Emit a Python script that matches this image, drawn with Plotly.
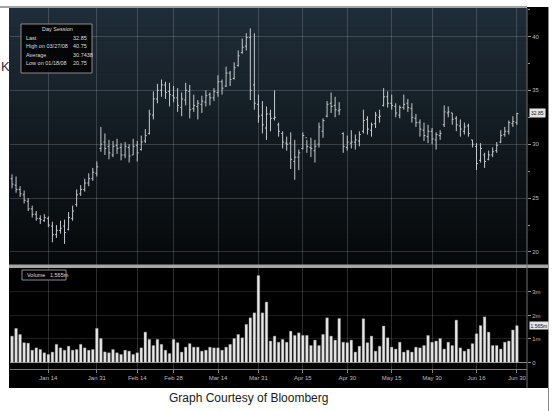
import pandas as pd
import plotly.graph_objects as go

W, H = 552, 411

# ---- data ----
holidays = ["2008-01-01", "2008-01-21", "2008-02-18", "2008-03-21", "2008-05-26"]
dates = [d.strftime("%Y-%m-%d") for d in pd.bdate_range("2007-12-31", "2008-06-30")
         if d.strftime("%Y-%m-%d") not in holidays]

high = [27.2, 27.0, 26.1, 25.7, 25.0, 24.3, 23.8, 23.4, 23.5, 23.3,
        22.8, 22.5, 22.9, 23.0, 23.7, 24.3, 25.8, 26.2, 26.8, 27.3,
        27.8, 28.4, 31.6, 31.0, 30.4, 30.3, 30.5, 30.1, 30.2, 30.0,
        30.5, 30.3, 30.8, 31.4, 33.2, 34.9, 35.6, 36.0, 35.8, 35.7,
        35.4, 35.2, 34.8, 35.7, 35.5, 34.6, 34.1, 34.5, 35.0, 34.8,
        35.2, 36.4, 36.0, 37.2, 36.8, 37.6, 38.7, 39.8, 40.3, 40.75,
        40.3, 34.6, 34.0, 33.5, 33.2, 35.0, 32.0, 31.2, 30.7, 31.1,
        30.4, 29.5, 31.1, 30.4, 30.6, 30.4, 32.0, 32.4, 34.0, 34.8,
        34.4, 33.9, 31.1, 30.8, 31.3, 30.9, 31.2, 33.2, 32.6, 32.0,
        33.0, 33.2, 35.2, 34.9, 34.6, 33.8, 33.6, 34.6, 34.2, 33.8,
        32.8, 32.3, 32.0, 31.8, 31.5, 31.1, 31.3, 33.6, 33.5, 32.9,
        32.6, 32.3, 32.0, 31.9, 30.4, 30.1, 30.1, 29.2, 29.4, 29.7,
        30.2, 31.3, 31.6, 32.2, 32.6, 32.9]
low = [25.9, 25.5, 25.1, 24.5, 23.8, 23.2, 22.9, 22.6, 22.8, 22.3,
       20.9, 21.3, 21.7, 20.75, 22.0, 22.9, 24.2, 25.2, 25.6, 26.1,
       26.6, 27.0, 29.3, 29.0, 28.6, 28.8, 29.1, 28.5, 28.7, 28.3,
       29.0, 28.4, 29.4, 30.1, 30.9, 32.3, 33.8, 34.4, 34.2, 33.5,
       33.9, 33.0, 32.6, 33.6, 32.4, 33.0, 32.3, 32.9, 33.5, 33.6,
       34.0, 34.4, 34.6, 35.3, 35.4, 36.0, 37.2, 38.4, 38.7, 34.1,
       33.2, 32.0, 31.0, 30.4, 31.2, 32.2, 30.7, 29.6, 29.4, 27.7,
       26.7, 27.6, 29.5, 29.2, 28.8, 28.3, 29.7, 30.6, 32.5, 32.9,
       32.5, 32.7, 29.2, 29.4, 29.6, 29.5, 29.8, 31.0, 30.9, 30.7,
       31.5, 32.0, 33.5, 33.4, 33.2, 32.5, 32.4, 33.2, 33.0, 32.0,
       31.6, 30.7, 30.3, 30.1, 30.0, 29.5, 30.4, 31.6, 32.5, 31.8,
       31.2, 30.7, 30.9, 30.7, 29.7, 27.6, 28.3, 27.8, 28.5, 28.8,
       29.2, 30.1, 30.7, 30.9, 31.6, 31.8]
open_ = [26.8, 26.2, 25.8, 25.3, 24.7, 24.0, 23.5, 23.1, 22.9, 23.1,
         22.4, 21.6, 22.0, 22.4, 22.1, 23.1, 24.4, 25.4, 25.8, 26.4,
         26.8, 27.3, 29.6, 30.2, 29.8, 29.0, 29.9, 29.7, 29.0, 29.7,
         29.0, 29.9, 29.5, 30.3, 31.0, 32.7, 34.2, 35.0, 35.5, 34.9,
         34.5, 34.3, 33.4, 34.1, 34.9, 33.3, 33.5, 33.7, 33.9, 34.6,
         34.3, 34.8, 35.8, 35.4, 36.6, 36.1, 37.3, 38.5, 39.1, 39.9,
         35.5, 33.7, 32.7, 31.5, 32.8, 32.4, 31.8, 31.0, 30.1, 30.1,
         28.4, 28.8, 29.6, 30.6, 29.7, 29.4, 30.0, 31.2, 32.6, 33.8,
         33.6, 33.1, 31.0, 29.7, 30.1, 30.2, 30.3, 31.2, 32.3, 31.3,
         31.9, 32.5, 33.6, 34.4, 33.8, 33.5, 32.7, 33.4, 33.8, 33.3,
         32.4, 32.0, 31.3, 30.7, 31.2, 30.4, 30.8, 31.8, 32.9, 32.9,
         32.4, 31.7, 31.2, 31.7, 30.4, 29.8, 28.5, 29.0, 28.6, 29.0,
         29.4, 30.2, 30.9, 31.2, 31.9, 32.0]
close = [26.3, 25.8, 25.4, 24.8, 24.0, 23.5, 23.1, 23.0, 23.2, 22.5,
         21.6, 22.0, 22.2, 21.8, 23.2, 23.8, 25.3, 25.8, 26.4, 26.8,
         27.4, 27.9, 30.0, 29.6, 29.2, 29.8, 29.6, 29.0, 29.8, 28.9,
         29.8, 29.2, 30.2, 30.8, 32.8, 34.2, 35.0, 35.5, 34.8, 34.6,
         34.3, 33.6, 34.2, 35.0, 33.2, 33.6, 33.8, 34.0, 34.5, 34.3,
         34.9, 35.8, 35.2, 36.6, 36.0, 37.1, 38.2, 39.0, 39.9, 35.0,
         33.8, 32.6, 31.8, 32.8, 32.4, 32.5, 31.2, 30.2, 30.0, 28.6,
         28.8, 29.2, 30.8, 29.8, 29.6, 29.8, 31.6, 32.2, 33.7, 33.5,
         33.2, 33.2, 29.8, 30.2, 30.2, 30.4, 30.9, 32.2, 31.4, 31.8,
         32.7, 32.6, 34.4, 33.8, 33.6, 32.9, 33.4, 33.7, 33.4, 32.5,
         32.0, 31.4, 30.8, 31.2, 30.5, 30.9, 31.0, 33.0, 33.0, 32.3,
         31.8, 31.4, 31.6, 31.0, 30.0, 28.2, 29.6, 28.4, 29.0, 29.3,
         29.9, 30.8, 31.2, 32.0, 32.1, 32.85]
volume_m = [1.12, 1.45, 1.19, 0.84, 0.82, 0.52, 0.62, 0.55, 0.41, 0.34,
            0.44, 0.77, 0.62, 0.52, 0.69, 0.52, 0.55, 0.77, 0.62, 0.52,
            0.55, 1.45, 1.02, 0.45, 0.41, 0.55, 0.41, 0.34, 0.52, 0.48,
            0.34, 0.41, 0.62, 1.29, 0.98, 0.72, 0.98, 0.77, 0.52, 0.38,
            0.98, 0.84, 0.44, 0.65, 0.80, 0.65, 0.65, 0.48, 0.52, 0.65,
            0.62, 0.62, 0.52, 0.65, 0.77, 1.02, 1.19, 1.05, 1.62, 1.90,
            2.11, 3.70, 2.11, 2.57, 0.91, 1.12, 0.86, 0.98, 0.86, 1.33,
            1.15, 1.26, 1.15, 1.15, 0.72, 0.95, 0.72, 1.19, 1.90, 1.12,
            0.95, 1.87, 0.86, 0.84, 0.95, 0.44, 0.69, 1.86, 0.84, 1.12,
            0.48, 0.69, 1.55, 1.05, 0.65, 0.57, 0.86, 0.44, 0.52, 0.44,
            0.65, 0.62, 0.72, 1.15, 0.86, 0.91, 1.02, 0.57, 0.86, 0.72,
            1.80, 0.62, 0.48, 0.57, 0.80, 1.22, 1.57, 1.94, 1.29, 0.72,
            0.72, 0.57, 0.86, 0.91, 1.38, 1.565]

tick_dates = ["2008-01-14", "2008-01-31", "2008-02-14", "2008-02-28", "2008-03-14",
              "2008-03-31", "2008-04-15", "2008-04-30", "2008-05-15", "2008-05-30",
              "2008-06-16", "2008-06-30"]
tick_labels = ["Jan 14", "Jan 31", "Feb 14", "Feb 28", "Mar 14", "Mar 31",
               "Apr 15", "Apr 30", "May 15", "May 30", "Jun 16", "Jun 30"]
price_ticks = [20, 25, 30, 35, 40]
vol_ticks = [0, 1, 2, 3]
vol_labels = ["0", "1m", "2m", "3m"]

session_rows = [("Last", "32.85"), ("High on 03/27/08", "40.75"),
                ("Average", "30.7438"), ("Low on 01/18/08", "20.75")]


def px(x):
    return x / W


def py(y):
    return 1 - y / H


FONT = "Liberation Sans, Arial, sans-serif"
TICKFONT = dict(family=FONT, size=6, color="#bcbcbc")
GRID = "rgba(190,200,210,0.22)"

fig = go.Figure()
fig.add_trace(go.Ohlc(
    x=dates, open=open_, high=high, low=low, close=close,
    xaxis="x2", yaxis="y2", tickwidth=0.35,
    increasing=dict(line=dict(color="#c4c9cd", width=1)),
    decreasing=dict(line=dict(color="#c4c9cd", width=1)),
    showlegend=False, hoverinfo="skip"))
fig.add_trace(go.Bar(
    x=dates, y=volume_m, xaxis="x", yaxis="y",
    marker=dict(color="#e8e8e8", line=dict(color="#8a8a8a", width=0.4)),
    showlegend=False, hoverinfo="skip"))

shapes = []
# dark chart background
shapes.append(dict(type="rect", xref="paper", yref="paper", layer="below",
                   x0=px(9), x1=px(548), y0=py(388), y1=py(7),
                   fillcolor="#000000", line=dict(width=0)))
# gradient in the price panel
n = 40
top_c = (31, 45, 56)
bot_c = (6, 8, 10)
for k in range(n):
    y0 = 8 + (265 - 8) * k / n
    y1 = 8 + (265 - 8) * (k + 1) / n
    t = k / (n - 1)
    c = tuple(int(round(top_c[j] + (bot_c[j] - top_c[j]) * t)) for j in range(3))
    shapes.append(dict(type="rect", xref="paper", yref="paper", layer="below",
                       x0=px(9), x1=px(527), y0=py(y1 + 0.5), y1=py(y0),
                       fillcolor="rgb(%d,%d,%d)" % c, line=dict(width=0)))
# top grey border line
shapes.append(dict(type="line", xref="paper", yref="paper", layer="above",
                   x0=px(0), x1=px(527), y0=py(7), y1=py(7),
                   line=dict(color="#a0a4a8", width=2)))
# separator between price and volume panels
shapes.append(dict(type="rect", xref="paper", yref="paper", layer="above",
                   x0=px(9), x1=px(548), y0=py(268), y1=py(264.5),
                   fillcolor="#a6a6a6", line=dict(width=0)))
# vertical line at the axis strip
shapes.append(dict(type="line", xref="paper", yref="paper", layer="above",
                   x0=px(527), x1=px(527), y0=py(388), y1=py(8),
                   line=dict(color="#707070", width=1)))
# right border line
shapes.append(dict(type="line", xref="paper", yref="paper", layer="above",
                   x0=px(548.5), x1=px(548.5), y0=py(411), y1=py(7),
                   line=dict(color="#8a8a8a", width=1)))
# day session box
shapes.append(dict(type="rect", xref="paper", yref="paper", layer="above",
                   x0=px(21), x1=px(92), y0=py(73), y1=py(24),
                   fillcolor="rgba(0,0,0,0.85)", line=dict(color="#8c8c8c", width=1)))
# volume legend box
shapes.append(dict(type="rect", xref="paper", yref="paper", layer="above",
                   x0=px(22), x1=px(66), y0=py(280), y1=py(270),
                   fillcolor="rgba(0,0,0,0.9)", line=dict(color="#8c8c8c", width=1)))

ann = []
small = dict(family=FONT, size=5.5, color="#dedede")
ann.append(dict(x=px(57), y=py(29), text="Day Session", showarrow=False,
                xref="paper", yref="paper", font=small, xanchor="center", yanchor="middle"))
for i, (lab, val) in enumerate(session_rows):
    yy = 38 + i * 8.3
    ann.append(dict(x=px(23.5), y=py(yy), text=lab, showarrow=False, xref="paper",
                    yref="paper", font=small, xanchor="left", yanchor="middle"))
    ann.append(dict(x=px(71), y=py(yy), text=val, showarrow=False, xref="paper",
                    yref="paper", font=small, xanchor="left", yanchor="middle"))
ann.append(dict(x=px(25), y=py(275), text="Volume&nbsp;&nbsp;&nbsp;1.565m", showarrow=False,
                xref="paper", yref="paper", font=small, xanchor="left", yanchor="middle"))
# last value tags on the right axis
tagfont = dict(family=FONT, size=5, color="#111111")
ann.append(dict(x=px(529), y=close[-1], xref="paper", yref="y2", text="32.85",
                showarrow=False, xanchor="left", yanchor="middle",
                font=tagfont, bgcolor="#e6e6e6", borderpad=1))
ann.append(dict(x=px(528.5), y=volume_m[-1], xref="paper", yref="y", text="1.565m",
                showarrow=False, xanchor="left", yanchor="middle",
                font=tagfont, bgcolor="#e6e6e6", borderpad=0.5))
# cut-off text at left and caption
ann.append(dict(x=px(-1.5), y=py(66), text="K", showarrow=False, xref="paper", yref="paper",
                xanchor="left", yanchor="middle",
                font=dict(family=FONT, size=13, color="#333333")))
ann.append(dict(x=px(248), y=py(398), text="Graph Courtesy of Bloomberg", showarrow=False,
                xref="paper", yref="paper", xanchor="center", yanchor="middle",
                font=dict(family=FONT, size=12, color="#1a1a1a")))

xr = [-0.5, 127.5]
fig.update_layout(
    width=W, height=H, autosize=False,
    margin=dict(l=0, r=0, t=0, b=0),
    paper_bgcolor="#ffffff", plot_bgcolor="rgba(0,0,0,0)",
    bargap=0.35, shapes=shapes, annotations=ann,
    xaxis=dict(domain=[px(10), px(527)], anchor="y", type="category",
               categoryorder="array", categoryarray=dates, range=xr,
               tickmode="array", tickvals=tick_dates, ticktext=tick_labels,
               tickfont=TICKFONT, ticks="outside", ticklen=3, tickcolor="#808080",
               showgrid=True, gridcolor=GRID, showline=True, linecolor="#7a7a7a",
               linewidth=1, rangeslider=dict(visible=False), fixedrange=True),
    xaxis2=dict(domain=[px(10), px(527)], anchor="y2", type="category",
                categoryorder="array", categoryarray=dates, range=xr, matches="x",
                tickmode="array", tickvals=tick_dates, showticklabels=False,
                ticks="", showgrid=True, gridcolor=GRID, showline=False,
                rangeslider=dict(visible=False)),
    yaxis=dict(domain=[py(369), py(268)], anchor="x", side="right",
               range=[-0.28, 4.02], tickmode="array", tickvals=vol_ticks,
               ticktext=vol_labels, tickfont=TICKFONT, ticks="outside", ticklen=3,
               tickcolor="#909090", showgrid=True, gridcolor="rgba(190,200,210,0.14)",
               zeroline=True, zerolinecolor="#8a8a8a", zerolinewidth=1),
    yaxis2=dict(domain=[py(265), py(8)], anchor="x2", side="right",
                range=[18.79, 42.64], tickmode="array", tickvals=price_ticks,
                tickfont=TICKFONT, ticks="outside", ticklen=3, tickcolor="#909090",
                showgrid=True, gridcolor=GRID, zeroline=False,
                minor=dict(tickmode="linear", tick0=0, dtick=2.5, ticks="outside",
                           ticklen=2, tickcolor="#909090", showgrid=False)),
)

fig.write_html("out.html",
               config={"displayModeBar": False, "staticPlot": True},
               post_script="document.body.style.margin='0';"
                           "document.body.style.overflow='hidden';")
